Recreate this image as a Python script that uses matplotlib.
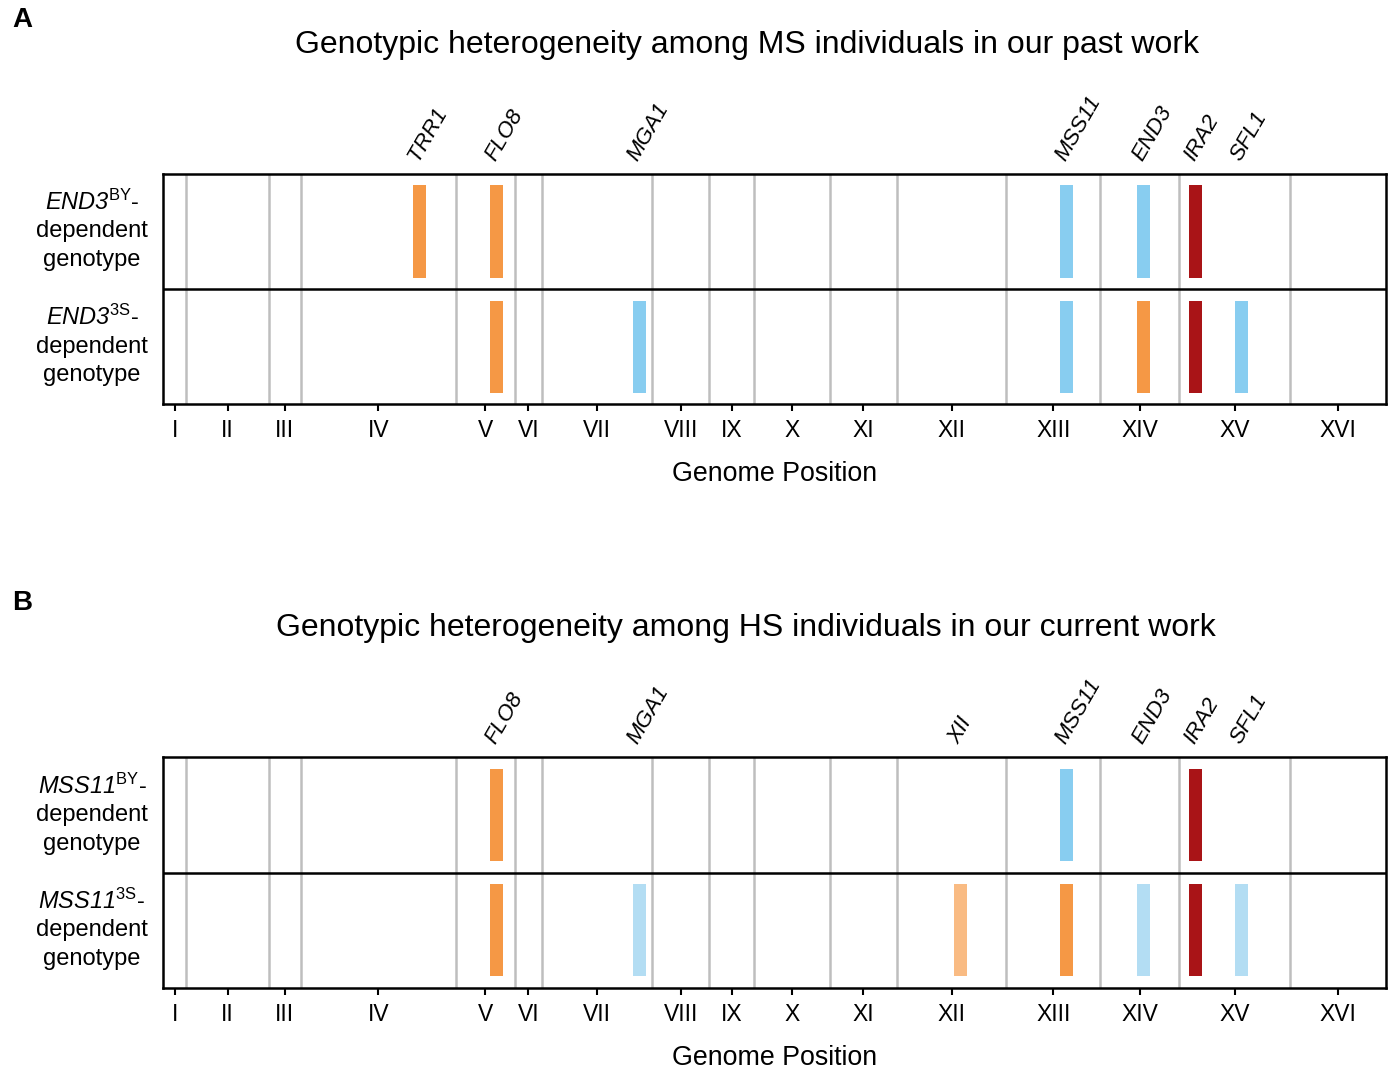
import matplotlib.pyplot as plt
import numpy as np

# chromosome lengths (kb), S. cerevisiae I..XVI
chrom_names = ["I", "II", "III", "IV", "V", "VI", "VII", "VIII",
               "IX", "X", "XI", "XII", "XIII", "XIV", "XV", "XVI"]
chrom_len = [230, 813, 317, 1532, 577, 270, 1091, 563,
             440, 746, 667, 1078, 924, 784, 1091, 948]

# gene locations: (chromosome index, position in kb)
gene_loc = {
    "TRR1": (3, 1167),
    "FLO8": (4, 401),
    "MGA1": (6, 959),
    "XII": (11, 620),
    "MSS11": (12, 592),
    "END3": (13, 432),
    "IRA2": (14, 157),
    "SFL1": (14, 613),
}

ORANGE = "#F59845"
BLUE = "#88CDF0"
RED = "#A91417"
LORANGE = "#F9BB83"
LBLUE = "#B3DDF3"

# panel A
a_title = "Genotypic heterogeneity among MS individuals in our past work"
a_labels = ["TRR1", "FLO8", "MGA1", "MSS11", "END3", "IRA2", "SFL1"]
a_row_names = ["END3", "END3"]
a_row_sup = ["BY", "3S"]
a_row1 = [("TRR1", ORANGE), ("FLO8", ORANGE), ("MSS11", BLUE), ("END3", BLUE), ("IRA2", RED)]
a_row2 = [("FLO8", ORANGE), ("MGA1", BLUE), ("MSS11", BLUE), ("END3", ORANGE),
          ("IRA2", RED), ("SFL1", BLUE)]

# panel B
b_title = "Genotypic heterogeneity among HS individuals in our current work"
b_labels = ["FLO8", "MGA1", "XII", "MSS11", "END3", "IRA2", "SFL1"]
b_row_names = ["MSS11", "MSS11"]
b_row_sup = ["BY", "3S"]
b_row1 = [("FLO8", ORANGE), ("MSS11", BLUE), ("IRA2", RED)]
b_row2 = [("FLO8", ORANGE), ("MGA1", LBLUE), ("XII", LORANGE), ("MSS11", ORANGE),
          ("END3", LBLUE), ("IRA2", RED), ("SFL1", LBLUE)]

plt.rcParams.update({
    "font.family": ["Liberation Sans", "DejaVu Sans"],
    "mathtext.fontset": "custom",
    "mathtext.rm": "Liberation Sans",
    "mathtext.it": "Liberation Sans:italic",
    # bf slot used for italic gene names so digits stay italic too
    "mathtext.bf": "Liberation Sans:italic",
})

starts = np.concatenate([[0], np.cumsum(chrom_len)[:-1]])
ends = np.cumsum(chrom_len)
centers = (starts + ends) / 2
total = ends[-1]


def gene_x(name):
    c, pos = gene_loc[name]
    return starts[c] + pos


def draw_panel(ax, labels, rows, row_names, row_sup):
    ax.set_xlim(0, total)
    ax.set_ylim(0, 2)
    # chromosome boundaries
    for b in ends[:-1]:
        ax.axvline(b, color="#BEBEBE", lw=1.8, zorder=1)
    ax.axhline(1, color="black", lw=1.8, zorder=3)
    # bars, top row first
    for i, row in enumerate(rows):
        y0 = 1 - i
        for g, col in row:
            ax.bar(gene_x(g), 0.8, bottom=y0 + 0.1, width=128, color=col,
                   zorder=2)
    # gene labels above
    for g in labels:
        ax.annotate(g, xy=(gene_x(g), 1), xycoords=("data", "axes fraction"),
                    xytext=(2, 7), textcoords="offset points", rotation=60,
                    rotation_mode="anchor", ha="left", va="bottom",
                    fontsize=16, style="italic", annotation_clip=False)
    # row labels
    tr = ax.get_yaxis_transform()
    for i in range(2):
        yc = 1.5 - i
        ax.text(-0.058, yc + 0.25,
                r"$\mathbf{%s}^{\mathrm{%s}}$-" % (row_names[i], row_sup[i]),
                transform=tr, ha="center", va="center", fontsize=17)
        ax.text(-0.058, yc, "dependent", transform=tr,
                ha="center", va="center", fontsize=17)
        ax.text(-0.058, yc - 0.25, "genotype", transform=tr,
                ha="center", va="center", fontsize=17)
    ax.set_yticks([])
    ax.set_xticks(centers)
    ax.set_xticklabels(chrom_names, fontsize=16.5)
    ax.tick_params(axis="x", length=5, width=1.5, pad=6)
    for s in ax.spines.values():
        s.set_linewidth(1.8)
    ax.text(0.5, -0.304, "Genome Position", transform=ax.transAxes,
            ha="center", va="center", fontsize=19.3)


fig = plt.figure(figsize=(13.89, 10.70), dpi=100)
ax_a = fig.add_axes([0.1174, 0.6224, 0.8805, 0.2150])
ax_b = fig.add_axes([0.1174, 0.0766, 0.8805, 0.2159])

draw_panel(ax_a, a_labels, [a_row1, a_row2], a_row_names, a_row_sup)
draw_panel(ax_b, b_labels, [b_row1, b_row2], b_row_names, b_row_sup)

fig.text(0.538, 0.958, a_title, ha="center", va="center", fontsize=23)
fig.text(0.537, 0.413, b_title, ha="center", va="center", fontsize=23)
fig.text(0.016, 0.981, "A", ha="center", va="center", fontsize=20, weight="bold")
fig.text(0.016, 0.436, "B", ha="center", va="center", fontsize=20, weight="bold")

fig.savefig("out.png", dpi=100)
